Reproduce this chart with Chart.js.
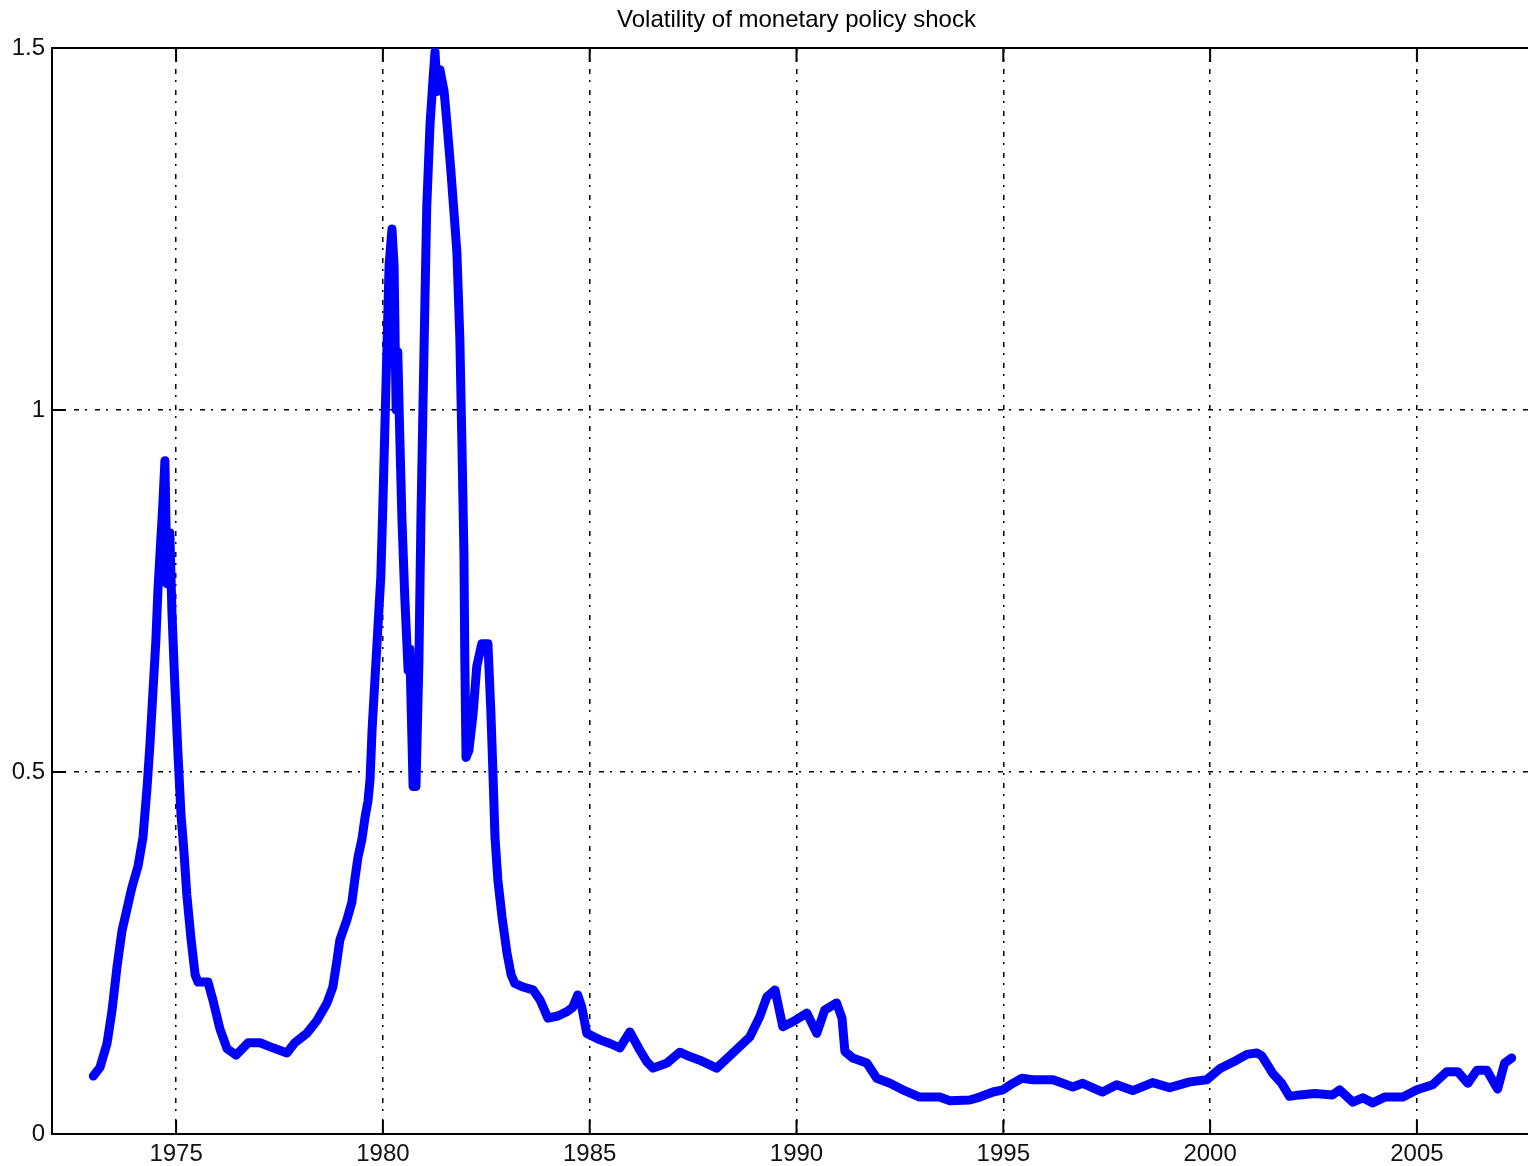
<!DOCTYPE html>
<html>
<head>
<meta charset="utf-8">
<script src="https://cdn.jsdelivr.net/npm/chart.js@4.4.1/dist/chart.umd.min.js"></script>
<style>
  html, body { margin: 0; padding: 0; background: #fff; overflow: hidden; }
  #wrap { width: 1560px; height: 1166px; }
</style>
</head>
<body>
<div id="wrap"><canvas id="chart" width="1560" height="1166"></canvas></div>
<script>
// volatility of the monetary policy shock
let years = [
  1973.00, 1973.16, 1973.33, 1973.45, 1973.57, 1973.69, 1973.81, 1973.93, 1974.08, 1974.20,
  1974.30, 1974.37, 1974.44, 1974.51, 1974.56, 1974.63, 1974.68, 1974.73, 1974.78, 1974.85,
  1974.90, 1974.97, 1975.05, 1975.12, 1975.19, 1975.26, 1975.36, 1975.46, 1975.53, 1975.77,
  1975.89, 1976.06, 1976.23, 1976.45, 1976.74, 1977.03, 1977.34, 1977.68, 1977.87, 1978.16,
  1978.41, 1978.65, 1978.79, 1978.89, 1978.96, 1979.13, 1979.25, 1979.32, 1979.40, 1979.49,
  1979.57, 1979.64, 1979.69, 1979.74, 1979.81, 1979.88, 1979.95, 1980.00, 1980.05, 1980.10,
  1980.15, 1980.22, 1980.27, 1980.32, 1980.36, 1980.41, 1980.46, 1980.53, 1980.61, 1980.65,
  1980.73, 1980.80, 1980.87, 1980.92, 1980.99, 1981.06, 1981.14, 1981.21, 1981.26, 1981.31,
  1981.38, 1981.48, 1981.55, 1981.64, 1981.72, 1981.79, 1981.86, 1981.91, 1981.96, 1981.98,
  1982.01, 1982.08, 1982.18, 1982.27, 1982.39, 1982.54, 1982.61, 1982.66, 1982.71, 1982.78,
  1982.88, 1983.00, 1983.10, 1983.19, 1983.39, 1983.63, 1983.80, 1983.99, 1984.23, 1984.45,
  1984.59, 1984.71, 1984.81, 1984.93, 1985.25, 1985.49, 1985.73, 1985.97, 1986.21, 1986.38,
  1986.53, 1986.87, 1987.18, 1987.42, 1987.66, 1988.07, 1988.46, 1988.87, 1989.11, 1989.28,
  1989.48, 1989.67, 1989.91, 1990.25, 1990.49, 1990.68, 1990.97, 1991.10, 1991.17, 1991.36,
  1991.70, 1991.94, 1992.26, 1992.57, 1992.98, 1993.46, 1993.71, 1994.19, 1994.43, 1994.75,
  1994.99, 1995.23, 1995.45, 1995.71, 1996.20, 1996.44, 1996.68, 1996.92, 1997.40, 1997.74,
  1998.13, 1998.61, 1999.02, 1999.51, 1999.92, 2000.23, 2000.64, 2000.89, 2001.13, 2001.25,
  2001.51, 2001.73, 2001.92, 2002.17, 2002.53, 2002.96, 2003.13, 2003.45, 2003.69, 2003.93,
  2004.22, 2004.66, 2005.00, 2005.38, 2005.72, 2005.99, 2006.23, 2006.45, 2006.69, 2006.95,
  2007.12, 2007.29
];
let shockVol = [
  0.080, 0.092, 0.125, 0.170, 0.230, 0.280, 0.310, 0.340, 0.370, 0.410,
  0.480, 0.540, 0.610, 0.680, 0.750, 0.820, 0.870, 0.930, 0.760, 0.830,
  0.720, 0.620, 0.520, 0.440, 0.390, 0.330, 0.270, 0.220, 0.210, 0.210,
  0.185, 0.145, 0.118, 0.109, 0.126, 0.126, 0.119, 0.112, 0.126, 0.139,
  0.157, 0.181, 0.203, 0.240, 0.268, 0.296, 0.320, 0.351, 0.383, 0.406,
  0.438, 0.460, 0.490, 0.560, 0.630, 0.700, 0.770, 0.870, 0.980, 1.090,
  1.200, 1.250, 1.200, 1.000, 1.080, 0.960, 0.850, 0.740, 0.640, 0.670,
  0.480, 0.480, 0.650, 0.850, 1.070, 1.280, 1.395, 1.455, 1.495, 1.440,
  1.470, 1.440, 1.395, 1.333, 1.272, 1.217, 1.100, 0.955, 0.800, 0.660,
  0.520, 0.530, 0.580, 0.646, 0.677, 0.677, 0.584, 0.500, 0.410, 0.351,
  0.300, 0.250, 0.220, 0.208, 0.203, 0.199, 0.185, 0.160, 0.163, 0.169,
  0.175, 0.192, 0.175, 0.139, 0.130, 0.125, 0.119, 0.141, 0.116, 0.100,
  0.091, 0.098, 0.113, 0.107, 0.102, 0.091, 0.112, 0.134, 0.162, 0.189,
  0.199, 0.148, 0.155, 0.167, 0.139, 0.171, 0.181, 0.160, 0.114, 0.105,
  0.098, 0.077, 0.070, 0.061, 0.051, 0.051, 0.046, 0.047, 0.051, 0.058,
  0.061, 0.070, 0.077, 0.075, 0.075, 0.070, 0.065, 0.070, 0.058, 0.068,
  0.060, 0.071, 0.064, 0.072, 0.075, 0.090, 0.102, 0.110, 0.112, 0.108,
  0.084, 0.070, 0.052, 0.054, 0.056, 0.054, 0.061, 0.044, 0.050, 0.043,
  0.051, 0.051, 0.061, 0.068, 0.086, 0.086, 0.070, 0.088, 0.088, 0.062,
  0.098, 0.105
];
let xTicks = [1975, 1980, 1985, 1990, 1995, 2000, 2005];
let yTicks = [0, 0.5, 1, 1.5];
let yLabels = ["0", "0.5", "1", "1.5"];

let font = "'Liberation Sans', Arial, Helvetica, sans-serif";

// top border plus matlab style inward tick marks
let frameTicks = {
  id: "frameTicks",
  beforeDatasetsDraw(chart) {
    let ctx = chart.ctx;
    let a = chart.chartArea;
    let x = chart.scales.x, y = chart.scales.y;
    ctx.save();
    ctx.strokeStyle = "#000";
    ctx.lineWidth = 2;
    ctx.beginPath();
    ctx.moveTo(a.left, a.top);
    ctx.lineTo(a.right, a.top);
    xTicks.forEach(t => {
      let px = x.getPixelForValue(t);
      ctx.moveTo(px, a.bottom); ctx.lineTo(px, a.bottom - 14);
      ctx.moveTo(px, a.top); ctx.lineTo(px, a.top + 14);
    });
    yTicks.forEach(t => {
      let py = y.getPixelForValue(t);
      ctx.moveTo(a.left, py); ctx.lineTo(a.left + 14, py);
    });
    ctx.stroke();
    ctx.restore();
  }
};

let ctx = document.getElementById("chart").getContext("2d");
let chart = new Chart(ctx, {
  type: "line",
  data: {
    datasets: [{
      label: "Volatility",
      data: years.map((yr, i) => ({ x: yr, y: shockVol[i] })),
      borderColor: "#0000ff",
      borderWidth: 9,
      borderJoinStyle: "round",
      borderCapStyle: "round",
      pointRadius: 0,
      tension: 0,
      fill: false
    }]
  },
  options: {
    responsive: false,
    animation: false,
    layout: { padding: { left: 0, right: 19, top: 0, bottom: 0 } },
    plugins: {
      legend: { display: false },
      tooltip: { enabled: false },
      title: {
        display: true,
        fullSize: false,
        text: "Volatility of monetary policy shock",
        color: "#000",
        font: { family: font, size: 24, weight: "normal" },
        padding: { top: 6, bottom: 13.2 }
      }
    },
    scales: {
      x: {
        type: "linear",
        min: 1972,
        max: 2008,
        afterBuildTicks: s => { s.ticks = xTicks.map(v => ({ value: v })); },
        afterFit: s => { s.height = 32; },
        ticks: {
          color: "#111",
          padding: 6,
          maxRotation: 0,
          autoSkip: false,
          font: { family: font, size: 24 },
          callback: v => String(v)
        },
        grid: { color: "#000", lineWidth: 1.5, drawTicks: false },
        border: { display: true, color: "#000", width: 2, dash: [5, 6, 2, 8] }
      },
      y: {
        min: 0,
        max: 1.5,
        afterBuildTicks: s => { s.ticks = yTicks.map(v => ({ value: v })); },
        afterFit: s => { s.width = 52; },
        ticks: {
          color: "#111",
          padding: 7,
          font: { family: font, size: 24 },
          callback: v => yLabels[yTicks.indexOf(v)]
        },
        grid: { color: "#000", lineWidth: 1.5, drawTicks: false },
        border: { display: true, color: "#000", width: 2, dash: [5, 6, 2, 8] }
      }
    }
  },
  plugins: [frameTicks]
});
</script>
</body>
</html>
